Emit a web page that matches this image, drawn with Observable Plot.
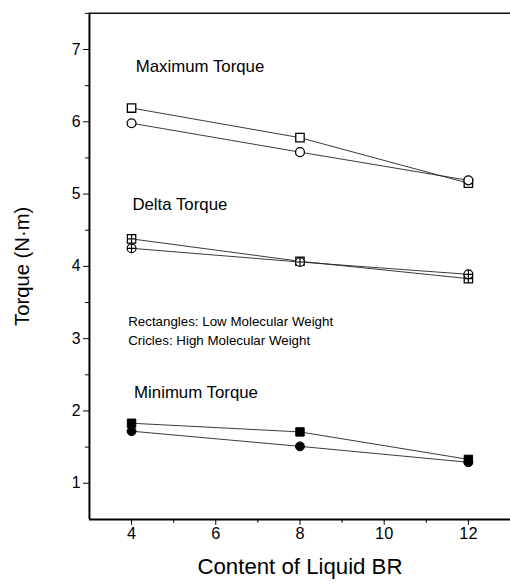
<!DOCTYPE html>
<html>
<head>
<meta charset="utf-8">
<script src="https://cdn.jsdelivr.net/npm/d3@7"></script>
<script src="https://cdn.jsdelivr.net/npm/@observablehq/plot@0.6"></script>
<style>
  html, body { margin: 0; padding: 0; background: #fff; overflow: hidden; width: 510px; height: 587px; }
  #chart svg { display: block; }
</style>
</head>
<body>
<div id="chart"></div>
<script>
// ---- data ----
const contents = [4, 8, 12];
const maxLow = [6.19, 5.78, 5.15];
const maxHigh = [5.98, 5.58, 5.19];
const deltaLow = [4.38, 4.07, 3.83];
const deltaHigh = [4.25, 4.06, 3.89];
const minLow = [1.83, 1.71, 1.33];
const minHigh = [1.72, 1.51, 1.29];
const xTicks = [4, 6, 8, 10, 12];
const xMinor = [5, 7, 9, 11];
const yTicks = [1, 2, 3, 4, 5, 6, 7];
const yMinor = [1.5, 2.5, 3.5, 4.5, 5.5, 6.5, 7.5];
const groupNames = ["Maximum Torque", "Delta Torque", "Minimum Torque"];
const legendNotes = ["Rectangles: Low Molecular Weight", "Cricles: High Molecular Weight"];
const xTitle = "Content of Liquid BR";
const yTitle = "Torque (N·m)";

// ---- build table ----
const seriesDefs = [
  {key: "maxLow", vals: maxLow, sym: "square"},
  {key: "maxHigh", vals: maxHigh, sym: "circle"},
  {key: "deltaLow", vals: deltaLow, sym: "squareCross"},
  {key: "deltaHigh", vals: deltaHigh, sym: "circleCross"},
  {key: "minLow", vals: minLow, sym: "squareFill"},
  {key: "minHigh", vals: minHigh, sym: "circleFill"}
];
const rows = seriesDefs.flatMap(s => contents.map((c, i) => ({series: s.key, sym: s.sym, x: c, y: s.vals[i]})));
const bySym = k => rows.filter(r => r.sym === k);

// custom symbols
const squareCross = {
  draw(ctx, size) {
    const h = Math.sqrt(size) / 2;
    ctx.moveTo(-h, -h); ctx.lineTo(h, -h); ctx.lineTo(h, h); ctx.lineTo(-h, h); ctx.closePath();
    ctx.moveTo(0, -h); ctx.lineTo(0, h);
    ctx.moveTo(-h, 0); ctx.lineTo(h, 0);
  }
};
const circleCross = {
  draw(ctx, size) {
    const r = Math.sqrt(size / Math.PI);
    ctx.moveTo(r, 0); ctx.arc(0, 0, r, 0, 2 * Math.PI);
    ctx.moveTo(0, -r); ctx.lineTo(0, r);
    ctx.moveTo(-r, 0); ctx.lineTo(r, 0);
  }
};
const squareSym = {
  draw(ctx, size) {
    const h = Math.sqrt(size) / 2;
    ctx.moveTo(-h, -h); ctx.lineTo(h, -h); ctx.lineTo(h, h); ctx.lineTo(-h, h); ctx.closePath();
  }
};
const circleSym = {
  draw(ctx, size) {
    const r = Math.sqrt(size / Math.PI);
    ctx.moveTo(r, 0); ctx.arc(0, 0, r, 0, 2 * Math.PI);
  }
};

const font = "'Liberation Sans', Arial, sans-serif";
const sqR = 4.8, ciR = 4.5;

const chart = Plot.plot({
  width: 516,
  height: 587,
  marginLeft: 90,
  marginRight: 0,
  marginTop: 13,
  marginBottom: 62,
  style: {fontFamily: font, fontSize: "15px", color: "#000", background: "#fff"},
  x: {domain: [3, 13], axis: null},
  y: {domain: [0.5, 7.5], axis: null},
  marks: [
    // frame lines
    Plot.ruleY([7.5], {stroke: "#111", strokeWidth: 1.5}),
    Plot.ruleX([3], {stroke: "#000", strokeWidth: 2}),
    Plot.ruleY([0.5], {stroke: "#000", strokeWidth: 2}),
    // axes
    Plot.axisX({ticks: xTicks, label: null, tickSize: 6, tickPadding: 2, tickFormat: d => d, fontSize: 16.5, tickStrokeWidth: 1.5}),
    Plot.axisX({ticks: xMinor, label: null, tickSize: 4, tickFormat: () => "", tickStrokeWidth: 1.2}),
    Plot.axisY({ticks: yTicks, label: null, tickSize: 6, tickPadding: 3, tickFormat: d => d, fontSize: 16, tickStrokeWidth: 1.5}),
    Plot.axisY({ticks: yMinor, label: null, tickSize: 4, tickFormat: () => "", tickStrokeWidth: 1.2}),
    // lines
    Plot.line(rows, {x: "x", y: "y", z: "series", stroke: "#222", strokeWidth: 0.9}),
    // markers
    Plot.dot(bySym("square"), {x: "x", y: "y", symbol: squareSym, r: sqR, stroke: "#000", fill: "#fff", strokeWidth: 1.3}),
    Plot.dot(bySym("circle"), {x: "x", y: "y", symbol: circleSym, r: ciR, stroke: "#000", fill: "#fff", strokeWidth: 1.3}),
    Plot.dot(bySym("squareCross"), {x: "x", y: "y", symbol: squareCross, r: sqR, stroke: "#000", fill: "#fff", strokeWidth: 1.2}),
    Plot.dot(bySym("circleCross"), {x: "x", y: "y", symbol: circleCross, r: ciR, stroke: "#000", fill: "#fff", strokeWidth: 1.2}),
    Plot.dot(bySym("squareFill"), {x: "x", y: "y", symbol: squareSym, r: sqR, stroke: "#000", fill: "#000", strokeWidth: 1}),
    Plot.dot(bySym("circleFill"), {x: "x", y: "y", symbol: circleSym, r: ciR, stroke: "#000", fill: "#000", strokeWidth: 1}),
    // annotations
    Plot.text([groupNames[0]], {x: 4.1, y: 6.77, text: d => d, textAnchor: "start", fontSize: 17, fill: "#000"}),
    Plot.text([groupNames[1]], {x: 4.02, y: 4.86, text: d => d, textAnchor: "start", fontSize: 17, fill: "#000"}),
    Plot.text([groupNames[2]], {x: 4.06, y: 2.25, text: d => d, textAnchor: "start", fontSize: 17, fill: "#000"}),
    Plot.text([legendNotes[0]], {x: 3.92, y: 3.23, text: d => d, textAnchor: "start", fontSize: 13.5, fill: "#000"}),
    Plot.text([legendNotes[1]], {x: 3.92, y: 2.97, text: d => d, textAnchor: "start", fontSize: 13.5, fill: "#000"}),
    // axis titles
    Plot.text([xTitle], {x: 8.0, y: 0.5, dy: 48, text: d => d, fontSize: 22.5, fill: "#000"}),
    Plot.text([yTitle], {x: 3, y: 4.0, dx: -67.5, rotate: -90, text: d => d, fontSize: 20.5, fill: "#000"})
  ]
});
document.getElementById("chart").appendChild(chart);
</script>
</body>
</html>
